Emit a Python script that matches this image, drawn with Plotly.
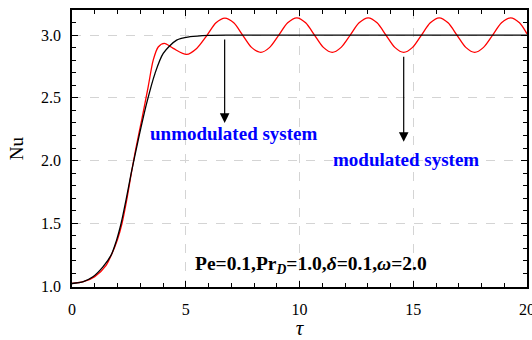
import plotly.graph_objects as go

# unmodulated system (black)
tau_unmod = [0.0, 0.5, 0.92, 1.36, 1.72, 1.95, 2.16, 2.38, 2.6, 2.91, 3.28, 3.65, 4.01, 4.6, 5.19, 6.0, 7.0, 10.0, 15.0, 20.0]
nu_unmod = [1.02, 1.035, 1.073, 1.152, 1.246, 1.36, 1.50, 1.69, 1.897, 2.163, 2.455, 2.695, 2.854, 2.96, 2.987, 2.998, 3.0, 3.0, 3.0, 3.0]

# modulated system (red)
tau_mod = [0.0, 0.5, 1.0, 1.5, 1.75, 2.0, 2.2, 2.4, 2.6, 2.8, 3.06, 3.35, 3.57, 3.79, 4.06, 4.45, 5.04, 5.48, 5.94,
           6.33, 6.72, 7.11, 7.50, 7.89, 8.30, 8.69, 9.09, 9.48, 9.88, 10.27, 10.66, 11.05, 11.44, 11.83,
           12.23, 12.62, 13.02, 13.41, 13.80, 14.19, 14.58, 14.97, 15.36, 15.75, 16.14, 16.53, 16.92,
           17.31, 17.70, 18.09, 18.49, 18.88, 19.28, 19.67, 20.0]
nu_mod = [1.02, 1.034, 1.075, 1.165, 1.255, 1.37, 1.50, 1.68, 1.89, 2.09, 2.32, 2.59, 2.80, 2.905, 2.934, 2.894, 2.846, 2.894, 3.0,
          3.098, 3.136, 3.098, 3.0, 2.902, 2.862, 2.902, 3.0, 3.098, 3.138, 3.098, 3.0, 2.902, 2.862, 2.902,
          3.0, 3.098, 3.138, 3.098, 3.0, 2.902, 2.862, 2.902, 3.0, 3.098, 3.138, 3.098, 3.0,
          2.902, 2.862, 2.902, 3.0, 3.098, 3.138, 3.098, 3.01]

x_ticks = [0, 5, 10, 15, 20]
y_ticks = [1.0, 1.5, 2.0, 2.5, 3.0]

FONT = "Liberation Serif, Times New Roman, serif"

fig = go.Figure()
fig.add_trace(go.Scatter(x=tau_mod, y=nu_mod, mode="lines", line=dict(color="red", width=1.3, shape="spline", smoothing=0.8), showlegend=False))
fig.add_trace(go.Scatter(x=tau_unmod, y=nu_unmod, mode="lines", line=dict(color="black", width=1.3, shape="spline", smoothing=0.8), showlegend=False))

axis_common = dict(
    showline=True, linecolor="black", linewidth=1.8, mirror="ticks",
    ticks="inside", ticklen=6, tickwidth=1, tickcolor="black",
    showgrid=True, gridcolor="#d4d4d4", griddash="dash", gridwidth=1,
    zeroline=False, tickfont=dict(family=FONT, size=16, color="black"),
    automargin=False, ticklabeloverflow="allow",
)

fig.update_xaxes(range=[0, 20], tickvals=x_ticks, ticktext=[str(v) for v in x_ticks],
                 minor=dict(dtick=1, ticks="inside", ticklen=4, tickcolor="black", showgrid=False),
                 ticklabelstandoff=7,
                 title=dict(text="<i>τ</i>", font=dict(family=FONT, size=21, color="black"), standoff=10),
                 **axis_common)
fig.update_yaxes(range=[0.992, 3.2], tickvals=y_ticks, ticktext=[f"{v:.1f}" for v in y_ticks],
                 minor=dict(dtick=0.1, tick0=1.0, ticks="inside", ticklen=4, tickcolor="black", showgrid=False),
                 ticklabelstandoff=6,
                 title=dict(text="Nu", font=dict(family=FONT, size=19, color="black"), standoff=12),
                 **axis_common)

# arrows
fig.add_annotation(x=6.71, y=2.30, ax=6.71, ay=2.976, xref="x", yref="y", axref="x", ayref="y",
                   showarrow=True, arrowhead=2, arrowsize=1.6, arrowwidth=1.2, arrowcolor="black", text="")
fig.add_annotation(x=14.58, y=2.15, ax=14.58, ay=2.84, xref="x", yref="y", axref="x", ayref="y",
                   showarrow=True, arrowhead=2, arrowsize=1.6, arrowwidth=1.2, arrowcolor="black", text="")

fig.add_annotation(x=7.1, y=2.215, xref="x", yref="y", showarrow=False,
                   text="<b>unmodulated system</b>", font=dict(family=FONT, size=19, color="blue"))
fig.add_annotation(x=14.7, y=2.007, xref="x", yref="y", showarrow=False,
                   text="<b>modulated system</b>", font=dict(family=FONT, size=19, color="blue"))
fig.add_annotation(x=10.5, y=1.166, xref="x", yref="y", showarrow=False,
                   text="<b>Pe=0.1,Pr<sub><i>D</i></sub>=1.0,<i>δ</i>=0.1,<i>ω</i>=2.0</b>",
                   font=dict(family=FONT, size=19.5, color="black"))

fig.update_layout(width=532, height=340, margin=dict(l=72, r=5, t=10, b=53),
                  plot_bgcolor="white", paper_bgcolor="white",
                  font=dict(family=FONT, color="black"))

fig.write_html("out.html")
